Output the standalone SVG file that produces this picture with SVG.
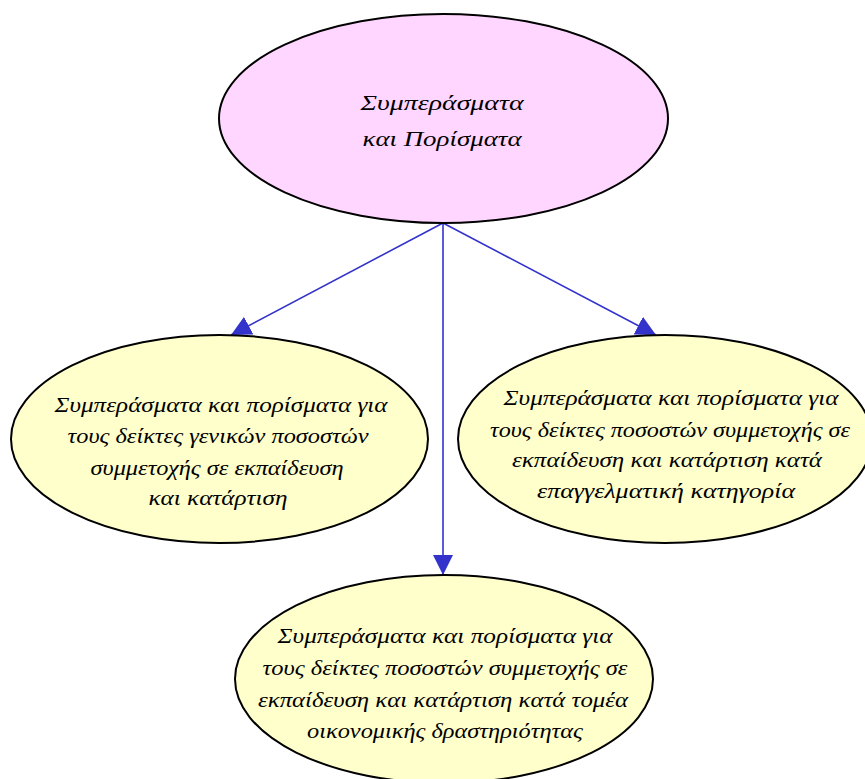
<svg xmlns="http://www.w3.org/2000/svg" width="865" height="779" viewBox="0 0 865 779">
<style>
.n{stroke:#000;stroke-width:2}
.t{font-family:"Liberation Serif","DejaVu Serif",serif;font-style:italic;font-size:21px;fill:#000;text-anchor:middle}
.e{stroke:#3333cc;stroke-width:1.6;fill:none}
</style>
<defs>
<marker id="a" markerWidth="20" markerHeight="20" refX="20" refY="10" orient="auto" markerUnits="userSpaceOnUse">
<path d="M0,0 L20,10 L0,20 Z" fill="#3333cc"/>
</marker>
</defs>
<rect width="865" height="779" fill="#fff"/>
<g id="edges">
<line class="e" x1="443" y1="223" x2="231" y2="335" marker-end="url(#a)"/>
<line class="e" x1="443" y1="223" x2="443" y2="575" marker-end="url(#a)"/>
<line class="e" x1="443" y1="223" x2="656" y2="335" marker-end="url(#a)"/>
</g>
<g id="root">
<ellipse class="n" cx="443.5" cy="118.5" rx="224.5" ry="104.5" fill="#ffd6ff"/>
<text class="t" x="442" y="110" font-size="23" textLength="163" lengthAdjust="spacingAndGlyphs">Συμπεράσματα</text>
<text class="t" x="442" y="146" font-size="23" textLength="159" lengthAdjust="spacingAndGlyphs">και Πορίσματα</text>
</g>
<g id="left">
<ellipse class="n" cx="219.5" cy="439" rx="208.5" ry="104" fill="#ffffcc"/>
<text class="t" x="221" y="412" textLength="333" lengthAdjust="spacingAndGlyphs">Συμπεράσματα και πορίσματα για</text>
<text class="t" x="218" y="443" textLength="301" lengthAdjust="spacingAndGlyphs">τους δείκτες γενικών ποσοστών</text>
<text class="t" x="217" y="475" textLength="253" lengthAdjust="spacingAndGlyphs">συμμετοχής σε εκπαίδευση</text>
<text class="t" x="218" y="505" textLength="139" lengthAdjust="spacingAndGlyphs">και κατάρτιση</text>
</g>
<g id="right">
<ellipse class="n" cx="665" cy="439" rx="207" ry="104" fill="#ffffcc"/>
<text class="t" x="671" y="405" textLength="335" lengthAdjust="spacingAndGlyphs">Συμπεράσματα και πορίσματα για</text>
<text class="t" x="670" y="437" textLength="360" lengthAdjust="spacingAndGlyphs">τους δείκτες ποσοστών συμμετοχής σε</text>
<text class="t" x="667" y="467" textLength="310" lengthAdjust="spacingAndGlyphs">εκπαίδευση και κατάρτιση κατά</text>
<text class="t" x="666" y="498" textLength="258" lengthAdjust="spacingAndGlyphs">επαγγελματική κατηγορία</text>
</g>
<g id="bottom">
<ellipse class="n" cx="444" cy="679" rx="209" ry="104" fill="#ffffcc"/>
<text class="t" x="445" y="643" textLength="335" lengthAdjust="spacingAndGlyphs">Συμπεράσματα και πορίσματα για</text>
<text class="t" x="445" y="675" textLength="365" lengthAdjust="spacingAndGlyphs">τους δείκτες ποσοστών συμμετοχής σε</text>
<text class="t" x="443" y="707" textLength="370" lengthAdjust="spacingAndGlyphs">εκπαίδευση και κατάρτιση κατά τομέα</text>
<text class="t" x="445" y="738" textLength="276" lengthAdjust="spacingAndGlyphs">οικονομικής δραστηριότητας</text>
</g>
</svg>
